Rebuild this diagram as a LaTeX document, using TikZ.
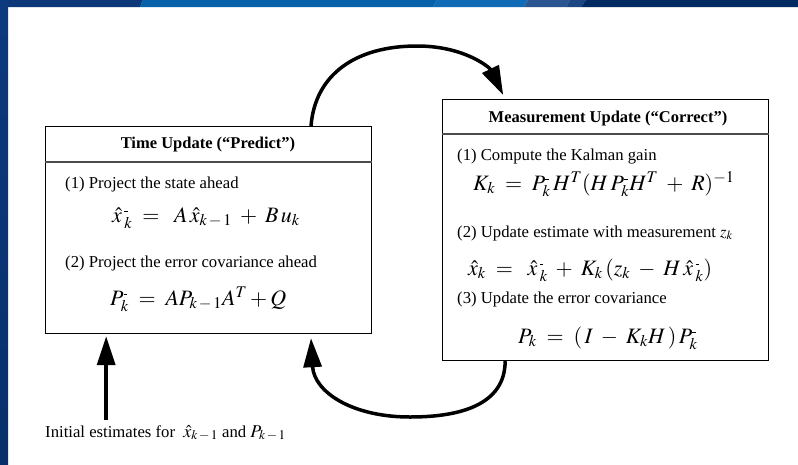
\documentclass[tikz,border=0pt]{standalone}
\usepackage{mathptmx}
\usepackage{fontspec}
\setmainfont{Liberation Serif}
\usetikzlibrary{arrows.meta,calc}
\definecolor{bandA}{HTML}{0C3879}
\definecolor{bandB}{HTML}{0661AB}
\definecolor{bandC}{HTML}{0F6BB6}
\definecolor{bandD}{HTML}{2A5590}
\definecolor{bandE}{HTML}{1C4785}
\definecolor{bandF}{HTML}{002B62}
\definecolor{stripTop}{HTML}{0D3A7E}
\definecolor{stripBot}{HTML}{07306A}
\newcommand{\mnus}{\mbox{\rule[2pt]{3.6pt}{1.1pt}}}
\newcommand{\kmo}{k\,-\,1}
\begin{document}
\begin{tikzpicture}[x=1pt,y=-1pt,
  box/.style={draw=black, line width=1.2pt, rectangle, inner sep=0pt, minimum width=326pt, anchor=north west},
  sep/.style={draw=black!70, line width=1.6pt},
  lbl/.style={anchor=base west, inner sep=0pt, font=\fontsize{16.7}{20}\selectfont},
  ttl/.style={anchor=base, inner sep=0pt, font=\fontsize{16.5}{20}\selectfont\bfseries},
  eqn/.style={anchor=base west, inner sep=0pt, font=\fontsize{22}{26}\selectfont},
  arr/.style={line width=3.5pt, -{Triangle[length=29pt,width=18pt]}},
]
\useasboundingbox (0,0) rectangle (798,464);
\fill[white] (0,0) rectangle (798,464);
% top band
\fill[bandA] (0,0) -- (143,0) -- (140,7) -- (0,7) -- cycle;
\fill[bandB] (143,0) -- (437,0) -- (433,7) -- (140,7) -- cycle;
\fill[bandC] (437,0) -- (528,0) -- (524,7) -- (433,7) -- cycle;
\fill[bandD] (528,0) -- (570,0) -- (566,7) -- (524,7) -- cycle;
\fill[bandE] (570,0) -- (586,0) -- (581,7) -- (566,7) -- cycle;
\fill[bandF] (586,0) -- (798,0) -- (798,7) -- (581,7) -- cycle;
\shade[top color=stripTop, bottom color=stripBot] (0,0) rectangle (8,464);

% boxes
\node[box, minimum height=207pt] (tbox) at (45,126) {};
\node[box, minimum height=261pt] (mbox) at (442,99) {};
\draw[sep] (tbox.west |- 0,162) -- (tbox.east |- 0,162);
\draw[sep] (mbox.west |- 0,134) -- (mbox.east |- 0,134);

% left box text
\node[ttl] (tt) at (208,148) {Time Update (“Predict”)};
\node[lbl] (t1) at (65,188) {(1) Project the state ahead};
\node[eqn] (e1) at (112,222) {$\hat{x}\,{}_k^{\mnus} \;=\;\; A\,\hat{x}_{\kmo} \;+\; B\,u_k$};
\node[lbl] (t2) at (65,267) {(2) Project the error covariance ahead};
\node[eqn] (e2) at (110,305) {$P_k^{\mnus} \;=\; AP_{\kmo}A^T + Q$};

% right box text
\node[ttl] (mt) at (608,122) {Measurement Update (“Correct”)};
\node[lbl] (m1) at (457,160) {(1) Compute the Kalman gain};
\node[eqn] (e3) at (473,190) {$K_k \;=\; P_k^{\mnus}\,H^T(H\,P_k^{\mnus}H^T \;+\; R)^{-1}$};
\node[lbl] (m2) at (457,237) {(2) Update estimate with measurement $z_k$};
\node[eqn] (e4) at (468,275) {$\hat{x}_k \;=\;\; \hat{x}\,{}_k^{\mnus} \;+\; K_k\,(z_k \;-\; H\,\hat{x}\,{}_k^{\mnus})$};
\node[lbl] (m3) at (457,303) {(3) Update the error covariance};
\node[eqn] (e5) at (518,343) {$P_k \;=\; (\,I \;-\; K_kH\,)\,P_k^{\mnus}$};

% initial estimates
\node[lbl] (init) at (45,437) {Initial estimates for\ \ {\fontsize{18}{20}\selectfont$\hat{x}_{\kmo}$} and {\fontsize{18}{20}\selectfont$P_{\kmo}$}};

% connector points
\coordinate (ts) at ($(tbox.north west)!0.813!(tbox.north east)$);
\coordinate (mt0) at ($(mbox.north west)!0.187!(mbox.north east)$);
\coordinate (me) at ([yshift=4pt]mt0);
\coordinate (ms) at ($(mbox.south west)!0.193!(mbox.south east)$);
\coordinate (tb0) at ($(tbox.south west)!0.813!(tbox.south east)$);
\coordinate (te) at ([yshift=-4pt]tb0);
\coordinate (vt0) at ($(tbox.south west)!0.187!(tbox.south east)$);
\coordinate (vt) at ([yshift=-2pt]vt0);
\coordinate (vs) at (vt |- 0,420);

% arrows
\draw[arr] (ts) .. controls (315,75) and (355,46) .. (417,46)
  .. controls (465,46) and (490,68) .. (me);
\draw[arr] (ms) .. controls (505,405) and (460,417) .. (410,417)
  .. controls (352,417) and (314,392) .. (te);
\draw[arr] (vs) -- (vt);
\end{tikzpicture}
\end{document}
